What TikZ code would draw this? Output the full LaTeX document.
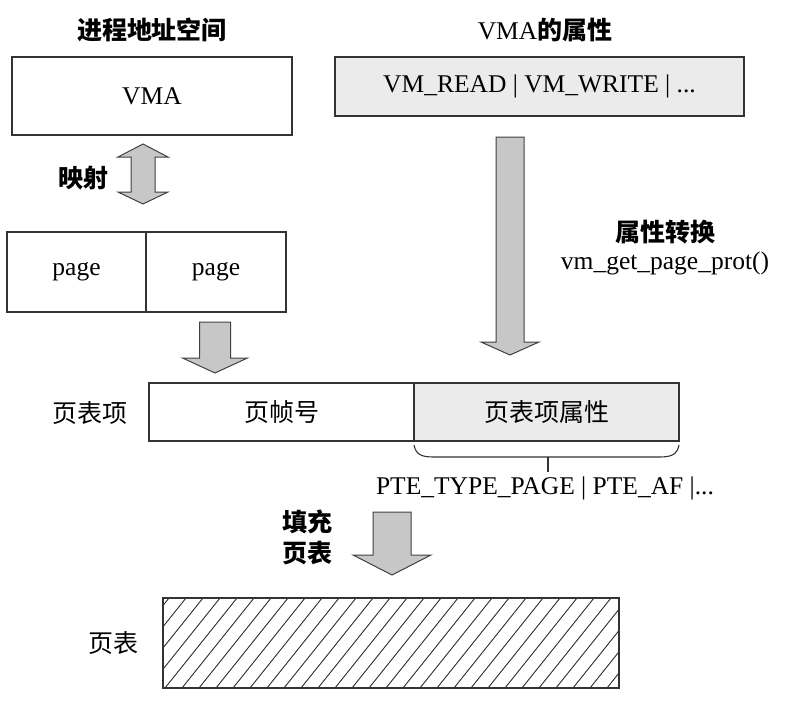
\documentclass[tikz,border=0pt]{standalone}
\usepackage{fontspec}
\setmainfont{Liberation Serif}
\newfontfamily\cjk{Noto Sans CJK SC}
\tikzset{
  box/.style={draw=black!80, line width=1.1pt, inner sep=0pt, font=\fontsize{25.5}{30}\selectfont},
  attrbox/.style={box, fill=black!8},
  txt/.style={inner sep=0pt, font=\fontsize{25.5}{30}\selectfont},
  cjktxt/.style={inner sep=0pt, font=\cjk\fontsize{25}{30}\selectfont},
  arrowfill/.style={draw=black!75, line width=1pt, fill=black!22},
}
% block arrow pointing down: x, top, head base, tip, shaft half, head half
\newcommand{\blockdown}[6]{%
  \filldraw[arrowfill] (#1-#5,#2) -- (#1+#5,#2) -- (#1+#5,#3) -- (#1+#6,#3)
    -- (#1,#4) -- (#1-#6,#3) -- (#1-#5,#3) -- cycle;}
\begin{document}
\begin{tikzpicture}[x=1pt,y=-1pt]
  \useasboundingbox (0,0) rectangle (796,702);

  % titles
  \node[cjktxt] (spacetitle) at (152,30) {\bfseries 进程地址空间};
  \node[txt] (attrtitle) at (545,30) {VMA{\cjk\fontsize{25}{30}\selectfont\bfseries 的属性}};

  % top boxes
  \node[box, minimum width=280pt, minimum height=78pt] (vma) at (152,96) {VMA};
  \node[attrbox, minimum width=409pt, minimum height=59pt] (vmattr) at (539.5,86.5)
    {VM\_READ | VM\_WRITE | ...};

  % mapping arrow
  \filldraw[arrowfill] (143,144) -- (168,157) -- (155,157) -- (155,192) -- (168,192)
    -- (143,204) -- (118,192) -- (131,192) -- (131,157) -- (118,157) -- cycle;
  \node[cjktxt] (maplabel) at (83,178) {\bfseries 映射};

  % pages
  \node[box, minimum width=139pt, minimum height=80pt] (page1) at (76.5,272) {page};
  \node[box, minimum width=140pt, minimum height=80pt] (page2) at (216,272) {page};

  \blockdown{215}{322}{358}{373}{15.5}{32.5}
  \blockdown{510}{137}{342}{355}{14}{29}

  \node[cjktxt] (convlabel) at (665,232) {\bfseries 属性转换};
  \node[txt] (convfunc) at (665,263) {vm\_get\_page\_prot()};

  % page table entry
  \node[cjktxt] (ptelabel) at (90,413) {页表项};
  \node[box, font=\cjk\fontsize{25}{30}\selectfont, minimum width=265pt, minimum height=58pt] (pfn) at (281.5,412) {页帧号};
  \node[attrbox, font=\cjk\fontsize{25}{30}\selectfont, minimum width=265pt, minimum height=58pt] (pteattr) at (546.5,412) {页表项属性};

  \draw[black!80, line width=1.1pt] (414,445) .. controls (416,455) and (422,457) .. (434,457)
    -- (659,457) .. controls (671,457) and (677,455) .. (679,445);
  \draw[black!80, line width=1.1pt] (548,457) -- (548,472);
  \node[txt] (pteflags) at (545,488) {PTE\_TYPE\_PAGE | PTE\_AF |...};

  % fill the page table
  \blockdown{392}{512}{555}{575}{19}{39}
  \node[cjktxt] (filllabel) at (307,522) {\bfseries 填充};
  \node[cjktxt] (filllabelb) at (307,553) {\bfseries 页表};

  % page table
  \node[cjktxt] (ptlabel) at (113,643) {页表};
  \node[box, minimum width=456pt, minimum height=90pt] (pt) at (391,643) {};
  \begin{scope}
    \clip (pt.south west) rectangle (pt.north east);
    \foreach \x in {80,97,...,640}
      \draw[black!80, line width=0.9pt] (\x,688) -- (\x+72,598);
  \end{scope}
  \draw[black!80, line width=1.1pt] (pt.south west) rectangle (pt.north east);
\end{tikzpicture}
\end{document}
